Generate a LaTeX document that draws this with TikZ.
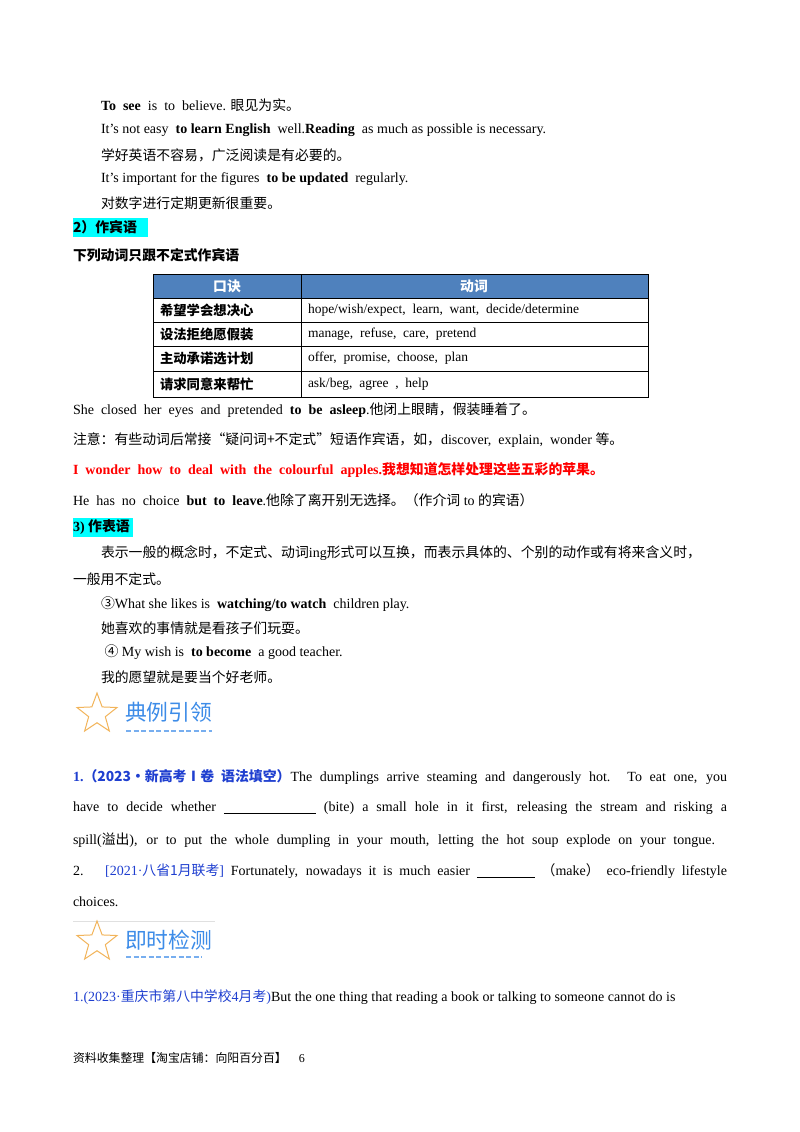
\documentclass[tikz,border=0pt]{standalone}
\usepackage{fontspec}
\setmainfont{Liberation Serif}
\newfontfamily\cjk[Scale=0.99]{Noto Sans CJK SC}
\usetikzlibrary{shapes.geometric}
\definecolor{hdr}{HTML}{4F81BD}
\definecolor{qblue}{HTML}{1F3FD0}
\definecolor{iconblue}{HTML}{3D8CE8}
\definecolor{starc}{HTML}{F2B45A}
\definecolor{hl}{HTML}{00FFFF}
\newcommand{\C}[1]{{\cjk #1}}
\newcommand{\jl}[1]{\parbox{654pt}{\parfillskip=0pt\relax #1}}
\begin{document}
\begin{tikzpicture}[x=1pt,y=-1pt,
  every node/.style={inner sep=0pt,outer sep=0pt,font=\fontsize{14}{16}\selectfont},
  txt/.style={anchor=west},
  cell/.style={anchor=west,font=\fontsize{13.5}{15}\selectfont},
  icontext/.style={anchor=west,text=iconblue,font=\fontsize{22}{24}\selectfont\cjk}]
\useasboundingbox (0,0) rectangle (800,1132);
\fill[white] (0,0) rectangle (800,1132);
\node[txt] (l1) at (101,105) {\textbf{To \ see} \ is \ to \ believe. \C{眼见为实。}};
\node[txt] (l2) at (101,130) {It's not easy \ \textbf{to learn English} \ well.\textbf{Reading} \ as much as possible is necessary.};
\node[txt] (l3) at (101,155) {\C{学好英语不容易，广泛阅读是有必要的。}};
\node[txt] (l4) at (101,179) {It's important for the figures \ \textbf{to be updated} \ regularly.};
\node[txt] (l5) at (101,203) {\C{对数字进行定期更新很重要。}};
\fill[hl] (73,218) rectangle (148,237);
\node[txt] (h2) at (73,227) {\C{\bfseries 2）作宾语}};
\node[txt] (h2b) at (73,255) {\C{\bfseries 下列动词只跟不定式作宾语}};
% table
\fill[hdr] (153,274) rectangle (648,298);
\draw[line width=0.8pt] (153,274) rectangle (648,397);
\foreach \yy in {298,322,346,371} \draw[line width=0.8pt] (153,\yy) -- (648,\yy);
\draw[line width=0.8pt] (301,274) -- (301,397);
\node[text=white] (th1) at (227,286) {\C{\bfseries 口诀}};
\node[text=white] (th2) at (474,286) {\C{\bfseries 动词}};
\node[cell] (a1) at (160,310) {\C{\bfseries 希望学会想决心}};
\node[cell] (a2) at (160,334) {\C{\bfseries 设法拒绝愿假装}};
\node[cell] (a3) at (160,358) {\C{\bfseries 主动承诺选计划}};
\node[cell] (a4) at (160,384) {\C{\bfseries 请求同意来帮忙}};
\node[cell] (b1) at (308,310) {hope/wish/expect, \ learn, \ want, \ decide/determine};
\node[cell] (b2) at (308,334) {manage, \ refuse, \ care, \ pretend};
\node[cell] (b3) at (308,358) {offer, \ promise, \ choose, \ plan};
\node[cell] (b4) at (308,384) {ask/beg, \ agree \ , \ help};
\node[txt] (s1) at (73,410) {She \ closed \ her \ eyes \ and \ pretended \ \textbf{to \ be \ asleep}.\C{他闭上眼睛，假装睡着了。}};
\node[txt] (s2) at (73,440) {\C{注意：有些动词后常接“疑问词+不定式”短语作宾语，如，}discover, \ explain, \ wonder \C{等。}};
\node[txt,text=red] (s3) at (73,470) {\textbf{I \ wonder \ how \ to \ deal \ with \ the \ colourful \ apples.}\C{\bfseries 我想知道怎样处理这些五彩的苹果。}};
\node[txt] (s4) at (73,500) {He \ has \ no \ choice \ \textbf{but \ to \ leave}.\C{他除了离开别无选择。（作介词} to \C{的宾语）}};
\fill[hl] (73,518) rectangle (133,537);
\node[txt] (h3) at (73,527) {\textbf{3)} \C{\bfseries 作表语}};
\node[txt] (p1) at (101,553) {\C{表示一般的概念时，不定式、动词}ing\C{形式可以互换，而表示具体的、个别的动作或有将来含义时，}};
\node[txt] (p2) at (73,579) {\C{一般用不定式。}};
\node[txt] (p3) at (101,604) {\C{③}What she likes is \ \textbf{watching/to watch} \ children play.};
\node[txt] (p4) at (101,628) {\C{她喜欢的事情就是看孩子们玩耍。}};
\node[txt] (p5) at (101,652) {\ \C{④} My wish is \ \textbf{to become} \ a good teacher.};
\node[txt] (p6) at (101,677) {\C{我的愿望就是要当个好老师。}};
% icon 1
\node[star,star points=5,star point ratio=2.4,draw=starc,line width=1pt,minimum size=42pt] (st1) at (97,714) {};
\node[icontext] (ic1) at (125,712) {典例引领};
\draw[iconblue!70,line width=2.2pt,dash pattern=on 5pt off 2.5pt] (126,731) -- (212,731);
% questions
\node[txt] (q1) at (73,777) {\jl{\textcolor{qblue}{\textbf{1.}\C{\bfseries（2023·新高考Ⅰ卷\ 语法填空）}}The dumplings arrive steaming and dangerously hot. To eat one, you}};
\node[txt] (q2) at (73,808) {\jl{have to decide whether \underline{\hspace{92pt}} (bite) a small hole in it first, releasing the stream and risking a}};
\node[txt] (q3) at (73,840) {\makebox[642pt][s]{spill(\C{溢出}), or to put the whole dumpling in your mouth, letting the hot soup explode on your tongue.}};
\node[txt] (q4) at (73,871) {\jl{2. \ \textcolor{qblue}{[2021·\C{八省1月联考}]} Fortunately, nowadays it is much easier \underline{\hspace{58pt}} \C{（}make\C{）} eco-friendly lifestyle}};
\node[txt] (q5) at (73,902) {choices.};
% icon 2
\draw[black!12,line width=0.8pt] (73,921) -- (215,921);
\node[star,star points=5,star point ratio=2.4,draw=starc,line width=1pt,minimum size=42pt] (st2) at (97,942) {};
\node[icontext] (ic2) at (125,940) {即时检测};
\draw[iconblue!70,line width=2.2pt,dash pattern=on 5pt off 2.5pt] (126,957) -- (202,957);
\node[txt] (q6) at (73,997) {\textcolor{qblue}{1.(2023·\C{重庆市第八中学校}4\C{月考})}But the one thing that reading a book or talking to someone cannot do is};
\node[txt,font=\fontsize{12}{14}\selectfont] (ft) at (73,1058) {\C{资料收集整理【淘宝店铺：向阳百分百】}\quad 6};
\end{tikzpicture}
\end{document}
